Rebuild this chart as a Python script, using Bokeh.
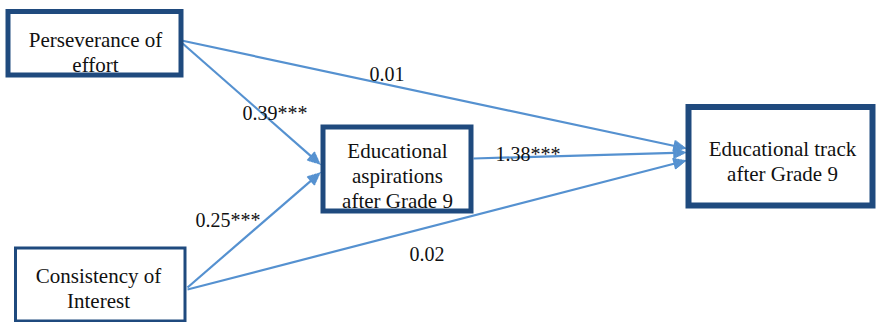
import numpy as np
from bokeh.plotting import figure
from bokeh.models import ColumnDataSource, Range1d
from bokeh.core.properties import value
from bokeh.embed import file_html
from bokeh.resources import INLINE

# Path model: grit facets -> aspirations -> educational track
node_ids = ["persev", "consist", "aspir", "track"]
node_labels = [
    "Perseverance of\neffort",
    "Consistency of\nInterest",
    "Educational\naspirations\nafter Grade 9",
    "Educational track\nafter Grade 9",
]
edge_from = ["persev", "persev", "consist", "aspir", "consist"]
edge_to = ["track", "aspir", "aspir", "track", "track"]
edge_coef = [0.01, 0.39, 0.25, 1.38, 0.02]
edge_stars = ["", "***", "***", "***", ""]

# Layout (screen pixels, y grows downward)
BOX = {  # left, top, right, bottom (border centre line), border width
    "persev": (7.5, 11, 180.5, 74.5, 5),
    "consist": (15, 247.5, 184.5, 320.5, 3),
    "aspir": (322.5, 126.5, 470.5, 210.5, 5),
    "track": (688, 106.5, 872, 205, 6),
}
TEXT_POS = {  # centre x, first baseline
    "persev": (95, 39),
    "consist": (98, 275),
    "aspir": (397, 150),
    "track": (782, 148),
}
EDGE_GEOM = [  # start, end, label left x, label baseline
    ((181, 40), (686, 148), 369, 73),
    ((181, 42), (320, 164), 242, 112),
    ((187, 287), (320, 172), 195, 219),
    ((473, 158), (686, 152), 495, 153),
    ((187, 289), (686, 160), 409, 253),
]

W, H = 876, 322
EDGE_COLOR = "#5591D0"
BORDER_COLOR = "#1F4A7E"
HEAD_LEN, HEAD_HALF, HEAD_SLICES = 13, 6, 9

p = figure(width=W, height=H, output_backend="svg", toolbar_location=None,
           x_range=Range1d(0, W), y_range=Range1d(H, 0),
           min_border=0, background_fill_color="white",
           border_fill_color="white", outline_line_color=None)
p.axis.visible = False
p.grid.visible = False

# path lines as thin rotated bars, arrow heads as stacked tapering slices
bx, by, bw, bh, ba = [], [], [], [], []
for (s, e, lx, ly) in EDGE_GEOM:
    s, e = np.array(s, float), np.array(e, float)
    d = e - s
    u = d / np.hypot(*d)
    ang = -np.arctan2(d[1], d[0])
    base = e - HEAD_LEN * u
    mid = (s + base) / 2 + 0.5 * u
    bx.append(mid[0]); by.append(mid[1])
    bw.append(np.hypot(*(base - s)) + 1); bh.append(2.2); ba.append(ang)
    t = HEAD_LEN / HEAD_SLICES
    for k in range(HEAD_SLICES):
        c = base + (k + 0.5) * t * u
        bx.append(c[0]); by.append(c[1])
        bw.append(t + 0.6)
        bh.append(max(2 * HEAD_HALF * (1 - (k + 0.5) / HEAD_SLICES), 1.2))
        ba.append(ang)
p.rect(x=bx, y=by, width=bw, height=bh, angle=ba,
       width_units="screen", height_units="screen",
       fill_color=EDGE_COLOR, line_color=None)

# boxes
for nid in node_ids:
    x0, y0, x1, y1, bwid = BOX[nid]
    p.quad(left=x0, right=x1, top=y0, bottom=y1, fill_color="white",
           line_color=BORDER_COLOR, line_width=bwid, line_join="miter")

# box labels
tx, ty, tt = [], [], []
for nid, lab in zip(node_ids, node_labels):
    cx, base_y = TEXT_POS[nid]
    for i, line in enumerate(lab.split("\n")):
        tx.append(cx)
        ty.append(base_y + 25 * i)
        tt.append(line)
p.text(x=tx, y=ty, text=tt, text_font=value("Liberation Serif"),
       text_font_size="21px", text_align="center", text_baseline="alphabetic",
       text_color="#111111")

# coefficient labels
lab_src = ColumnDataSource(dict(
    x=[g[2] for g in EDGE_GEOM],
    y=[g[3] for g in EDGE_GEOM],
    t=[f"{c:.2f}{s}" for c, s in zip(edge_coef, edge_stars)],
))
p.text(x="x", y="y", text="t", source=lab_src,
       text_font=value("Liberation Serif"), text_font_size="20px",
       text_align="left", text_baseline="alphabetic", text_color="#111111")

open("out.html", "w").write(file_html(p, INLINE))
